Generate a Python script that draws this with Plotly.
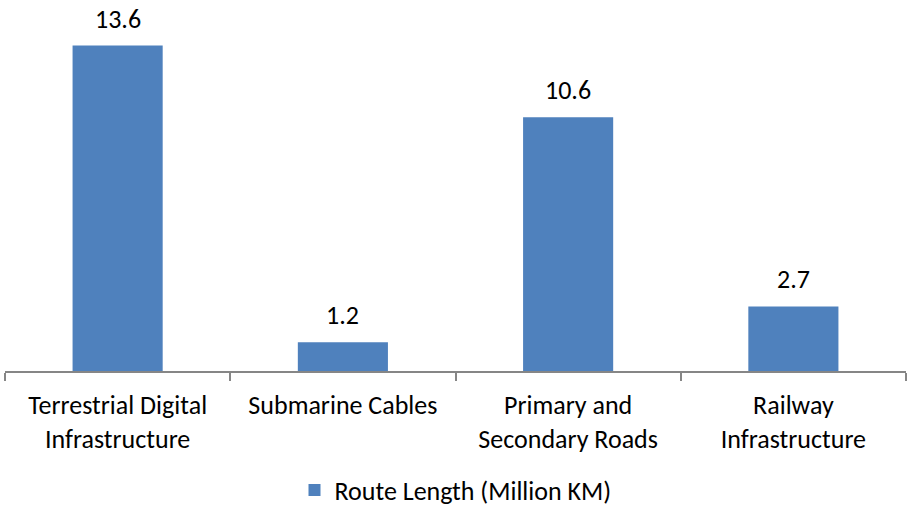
import plotly.graph_objects as go

categories = ["Terrestrial Digital<br>Infrastructure", "Submarine Cables",
              "Primary and<br>Secondary Roads", "Railway<br>Infrastructure"]
values = [13.6, 1.2, 10.6, 2.7]
value_labels = ["13.6", "1.2", "10.6", "2.7"]
series_name = "Route Length (Million KM)"

FONT = "Carlito, Calibri, Lato, sans-serif"
FS = 26

fig = go.Figure()
fig.add_trace(go.Bar(
    x=categories, y=values, name=series_name,
    marker=dict(color="#4F81BD", line=dict(width=0)),
    showlegend=True,
))

for c, v, t in zip(categories, values, value_labels):
    fig.add_annotation(x=c, y=v, text=t, showarrow=False, yanchor="bottom",
                       yshift=9, font=dict(family=FONT, size=FS, color="#000000"))

fig.update_layout(
    width=907, height=506,
    margin=dict(l=5, r=1, t=12, b=135, autoexpand=False),
    paper_bgcolor="white", plot_bgcolor="white",
    font=dict(family=FONT, size=FS, color="#000000"),
    bargap=0.6,
    showlegend=True,
    legend=dict(orientation="h", x=0.5, xanchor="center", y=-0.332, yanchor="middle",
                font=dict(family=FONT, size=FS, color="#000000"),
                itemsizing="constant", itemwidth=30, tracegroupgap=0),
    xaxis=dict(showline=True, linecolor="#868686", linewidth=2,
               ticks="outside", tickson="boundaries", ticklen=8, tickwidth=2,
               tickcolor="#868686", ticklabelstandoff=10, automargin=False,
               showgrid=False, zeroline=False,
               tickfont=dict(family=FONT, size=FS, color="#000000")),
    yaxis=dict(range=[0, 15], visible=False, showgrid=False, zeroline=False,
               automargin=False),
)

fig.write_html("out.html")
